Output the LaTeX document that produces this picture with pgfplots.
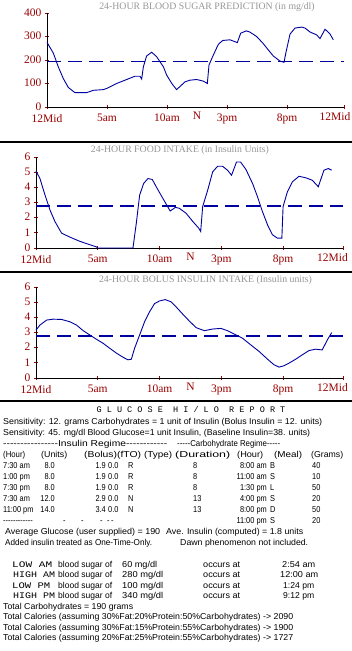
\documentclass[border=0pt]{standalone}
\usepackage{pgfplots}
\pgfplotsset{compat=1.18}
\usepackage{fontspec}
\setmainfont{Liberation Serif}
\newfontfamily\repfont{Liberation Sans}[FakeStretch=0.86]
\newfontfamily\capfont{Liberation Mono}
\newfontfamily\titfont{Liberation Mono}[LetterSpace=60]
\definecolor{tickred}{RGB}{153,0,0}
\definecolor{cblue}{RGB}{0,0,160}
\definecolor{titgray}{RGB}{150,150,150}
\pgfplotsset{
  chart/.style={
    scale only axis, anchor=south west,
    axis x line*=bottom, axis y line*=left,
    axis line style={black, line width=0.9pt, -},
    xmin=0, ymin=0,
    tick style={tickred, line width=0.8pt},
    major tick length=4pt, tick align=center,
    xticklabels={12Mid,5am,10am,3pm,8pm,{}},
    extra x ticks={12.5,24},
    extra x tick labels={N,12Mid},
    extra x tick style={major tick length=0pt},
    ticklabel style={font=\fontsize{11.5}{12}\selectfont, text=tickred},
    xticklabel style={yshift=-1.8pt},
    yticklabel style={yshift=0.6pt},
    /pgf/number format/assume math mode=true,
    clip=false,
  },
  cv/.style={cblue, line width=0.9pt, mark=none},
  dl/.style={cblue, line width=1.2pt, dash pattern=on 14pt off 7pt, mark=none},
}
\tikzset{rep/.style={anchor=base west, inner sep=0pt, font=\repfont\fontsize{8.6}{9}\selectfont},
  repe/.style={anchor=base east, inner sep=0pt, font=\repfont\fontsize{8.6}{9}\selectfont},
  gt/.style={anchor=center, inner sep=0pt, text=titgray, font=\fontsize{9.8}{10}\selectfont}}
\newcommand\rl[4]{\node[rep] at (#1pt,-#2pt) {\resizebox{#3pt}{\height}{#4}};}
\newcommand\capw[1]{{\capfont\fontsize{8.5}{9}\selectfont #1}}
\begin{document}
\begin{tikzpicture}
\useasboundingbox (0pt,0pt) rectangle (352pt,-651pt);
% ---------- chart 1 ----------
\node[gt] at (207pt,-7pt) {24-HOUR BLOOD SUGAR PREDICTION (in mg/dl)};
\begin{axis}[chart, at={(47pt,-107pt)}, width=297pt, height=94pt,
  xmax=24.75, ymax=400, xtick={0,5,10,15,20,24.75}, ytick={0,100,200,300,400}]
\addplot[cv] coordinates {
(0,275)(0.53,229)(0.94,171)(1.36,121)(1.78,83)(2.33,61)(3.3,61)(3.86,71)(4.7,74)(4.97,79)
(5.8,100)(6.64,117)(7.33,131)(7.75,131)(7.89,119)(8.03,171)(8.3,217)(8.72,233)(9.14,214)
(9.7,171)(9.97,136)(10.4,100)(10.8,74)(11.5,107)(11.9,114)(12.47,117)(13.03,110)(13.36,100)
(13.5,179)(13.86,221)(14.28,267)(14.64,283)(15.25,286)(15.86,274)(16.14,314)(16.6,324)
(16.9,319)(17.47,300)(18.0,271)(18.44,243)(18.86,217)(19.4,196)(19.75,190)(19.9,229)
(20.25,310)(20.67,336)(21.22,340)(21.5,336)(21.92,319)(22.47,307)(22.75,291)(23.17,331)
(23.58,311)(23.86,286)};
\addplot[dl] coordinates {(0,194.5)(24.75,194.5)};
\end{axis}
\draw[line width=2pt] (0pt,-142pt) -- (352pt,-142pt);
% ---------- chart 2 ----------
\node[gt] at (180pt,-150pt) {24-HOUR FOOD INTAKE (in Insulin Units)};
\begin{axis}[chart, at={(36pt,-248pt)}, width=307pt, height=91pt,
  xmax=24.85, ymax=6, xtick={0,5,10,15,20,24.85}, ytick={0,1,2,3,4,5,6}]
\addplot[cv] coordinates {
(0,5.08)(0.32,4.58)(0.73,3.49)(1.13,2.51)(1.53,1.75)(2.07,0.98)(2.74,0.72)(3.55,0.44)
(4.35,0.22)(4.9,0.07)(5.0,0)(7.85,0)(8.12,1.64)(8.39,3.49)(8.71,4.25)(9.06,4.58)(9.41,4.52)
(9.73,4.04)(10.27,3.27)(10.86,2.44)(11.29,2.68)(11.6,2.62)(12.15,2.29)(12.69,1.75)
(13.17,1.31)(13.33,1.09)(13.49,2.73)(13.9,3.82)(14.3,5.02)(14.7,5.39)(15.1,5.39)(15.5,5.13)
(15.83,4.80)(16.23,5.67)(16.56,5.67)(17.0,5.17)(17.53,4.25)(17.93,3.38)(18.33,2.40)
(18.74,1.53)(19.14,0.87)(19.54,0.65)(19.9,0.65)(20.0,2.73)(20.35,3.71)(20.75,4.36)
(21.29,4.73)(21.83,4.63)(22.36,4.47)(22.85,4.04)(23.31,5.13)(23.66,5.24)(23.93,5.13)};
\addplot[dl] coordinates {(0,2.77)(24.85,2.77)};
\end{axis}
\draw[line width=2pt] (0pt,-272pt) -- (352pt,-272pt);
% ---------- chart 3 ----------
\node[gt] at (205.5pt,-280pt) {24-HOUR BOLUS INSULIN INTAKE (Insulin units)};
\begin{axis}[chart, at={(36pt,-378pt)}, width=307pt, height=91pt,
  xmax=24.85, ymax=6, xtick={0,5,10,15,20,24.85}, ytick={0,1,2,3,4,5,6}]
\addplot[cv] coordinates {
(0,3.16)(0.32,3.49)(0.86,3.82)(1.4,3.88)(2.07,3.86)(2.74,3.71)(3.28,3.49)(3.82,3.12)
(4.35,2.84)(4.9,2.55)(5.43,2.29)(5.97,1.96)(6.51,1.64)(7.04,1.37)(7.45,1.20)(7.72,1.24)
(7.98,1.96)(8.39,2.84)(8.79,3.71)(9.19,4.36)(9.6,4.91)(10.0,5.08)(10.46,5.17)(10.94,5.02)
(11.34,4.69)(11.88,4.21)(12.42,3.75)(12.96,3.32)(13.63,3.12)(14.3,3.23)(14.97,3.27)
(15.5,3.12)(16.04,2.90)(16.72,2.62)(17.39,2.18)(18.06,1.75)(18.74,1.24)(19.27,0.87)
(19.68,0.72)(20.08,0.81)(20.48,0.98)(21.02,1.24)(21.56,1.53)(22.1,1.81)(22.63,1.90)
(23.17,1.85)(23.58,2.51)(23.93,2.99)};
\addplot[dl] coordinates {(0,2.77)(24.85,2.77)};
\end{axis}
\draw[line width=2pt] (0pt,-401pt) -- (352pt,-401pt);
% ---------- report ----------
\node[anchor=center, inner sep=0pt, font=\titfont\fontsize{8.5}{9}\selectfont] at (191pt,-409pt) {GLUCOSE HI/LO REPORT};
\rl{3}{424}{319}{Sensitivity: 12. grams Carbohydrates = 1 unit of Insulin (Bolus Insulin = 12. units)}
\rl{3}{435}{307}{Sensitivity: 45. mg/dl Blood Glucose=1 unit Insulin, (Baseline Insulin=38. units)}
\rl{3}{446}{164}{----------------Insulin Regime------------}
\rl{177}{446}{103}{-----Carbohydrate Regime-----}
\rl{3}{457}{22}{(Hour)}
\rl{41}{457}{26}{(Units)}
\rl{84}{457}{57}{(Bolus)(fTO)}
\rl{144}{457}{28}{(Type)}
\rl{175}{457}{55}{(Duration)}
\rl{237}{457}{26}{(Hour)}
\rl{274}{457}{28}{(Meal)}
\rl{311}{457}{32}{(Grams)}
\foreach \y/\a/\b/\c/\d/\e/\f/\g/\h/\i in {
  468/7:30 am/8.0/1.9/0.0/R/8/8:00 am/B/40,
  479/1:00 pm/8.0/1.9/0.0/R/8/11:00 am/S/10,
  490/7:30 pm/8.0/1.9/0.0/R/8/1:30 pm/L/50,
  501/7:30 am/12.0/2.9/0.0/N/13/4:00 pm/S/20,
  512/11:00 pm/14.0/3.4/0.0/N/13/8:00 pm/D/50}{
  \node[rep] at (3pt,-\y pt) {\a};
  \node[repe] at (55pt,-\y pt) {\b};
  \node[repe] at (106pt,-\y pt) {\c};
  \node[rep] at (108pt,-\y pt) {\d};
  \node[rep] at (128pt,-\y pt) {\e};
  \node[rep] at (193pt,-\y pt) {\f};
  \node[repe] at (267pt,-\y pt) {\g};
  \node[rep] at (270pt,-\y pt) {\h};
  \node[rep] at (312pt,-\y pt) {\i};
}
\node[rep] at (3pt,-523pt) {------------};
\foreach \x in {63,81,100,107,111} \node[rep] at (\x pt,-523pt) {-};
\node[repe] at (267pt,-523pt) {11:00 pm};
\node[rep] at (270pt,-523pt) {S};
\node[rep] at (312pt,-523pt) {20};
\rl{5}{534.5}{155}{Average Glucose (user supplied) = 190}
\rl{166}{534.5}{137}{Ave. Insulin (computed) = 1.8 units}
\rl{5}{545.5}{147}{Added insulin treated as One-Time-Only.}
\rl{180}{545.5}{128}{Dawn phenomenon not included.}
% low / high
\rl{12}{567}{40}{\capw{LOW AM}}
\rl{13}{577.5}{42}{\capw{HIGH AM}}
\rl{12}{588}{38}{\capw{LOW PM}}
\rl{13}{598.5}{42}{\capw{HIGH PM}}
\foreach \y in {567,577.5,588,598.5}{
  \rl{58}{\y}{54}{blood sugar of}
  \rl{203}{\y}{37}{occurs at}
}
\rl{122}{567}{35}{60 mg/dl}
\rl{122}{577.5}{41}{280 mg/dl}
\rl{122}{588}{41}{100 mg/dl}
\rl{122}{598.5}{41}{340 mg/dl}
\rl{282}{567}{33}{2:54 am}
\rl{280}{577.5}{38}{12:00 am}
\rl{283}{588}{31}{1:24 pm}
\rl{283}{598.5}{31}{9:12 pm}
\rl{3}{609}{130}{Total Carbohydrates = 190 grams}
\rl{3}{619.5}{290}{Total Calories (assuming 30\%Fat:20\%Protein:50\%Carbohydrates) -> 2090}
\rl{3}{630}{290}{Total Calories (assuming 30\%Fat:15\%Protein:55\%Carbohydrates) -> 1900}
\rl{3}{640.5}{290}{Total Calories (assuming 20\%Fat:25\%Protein:55\%Carbohydrates) -> 1727}
\end{tikzpicture}
\end{document}
